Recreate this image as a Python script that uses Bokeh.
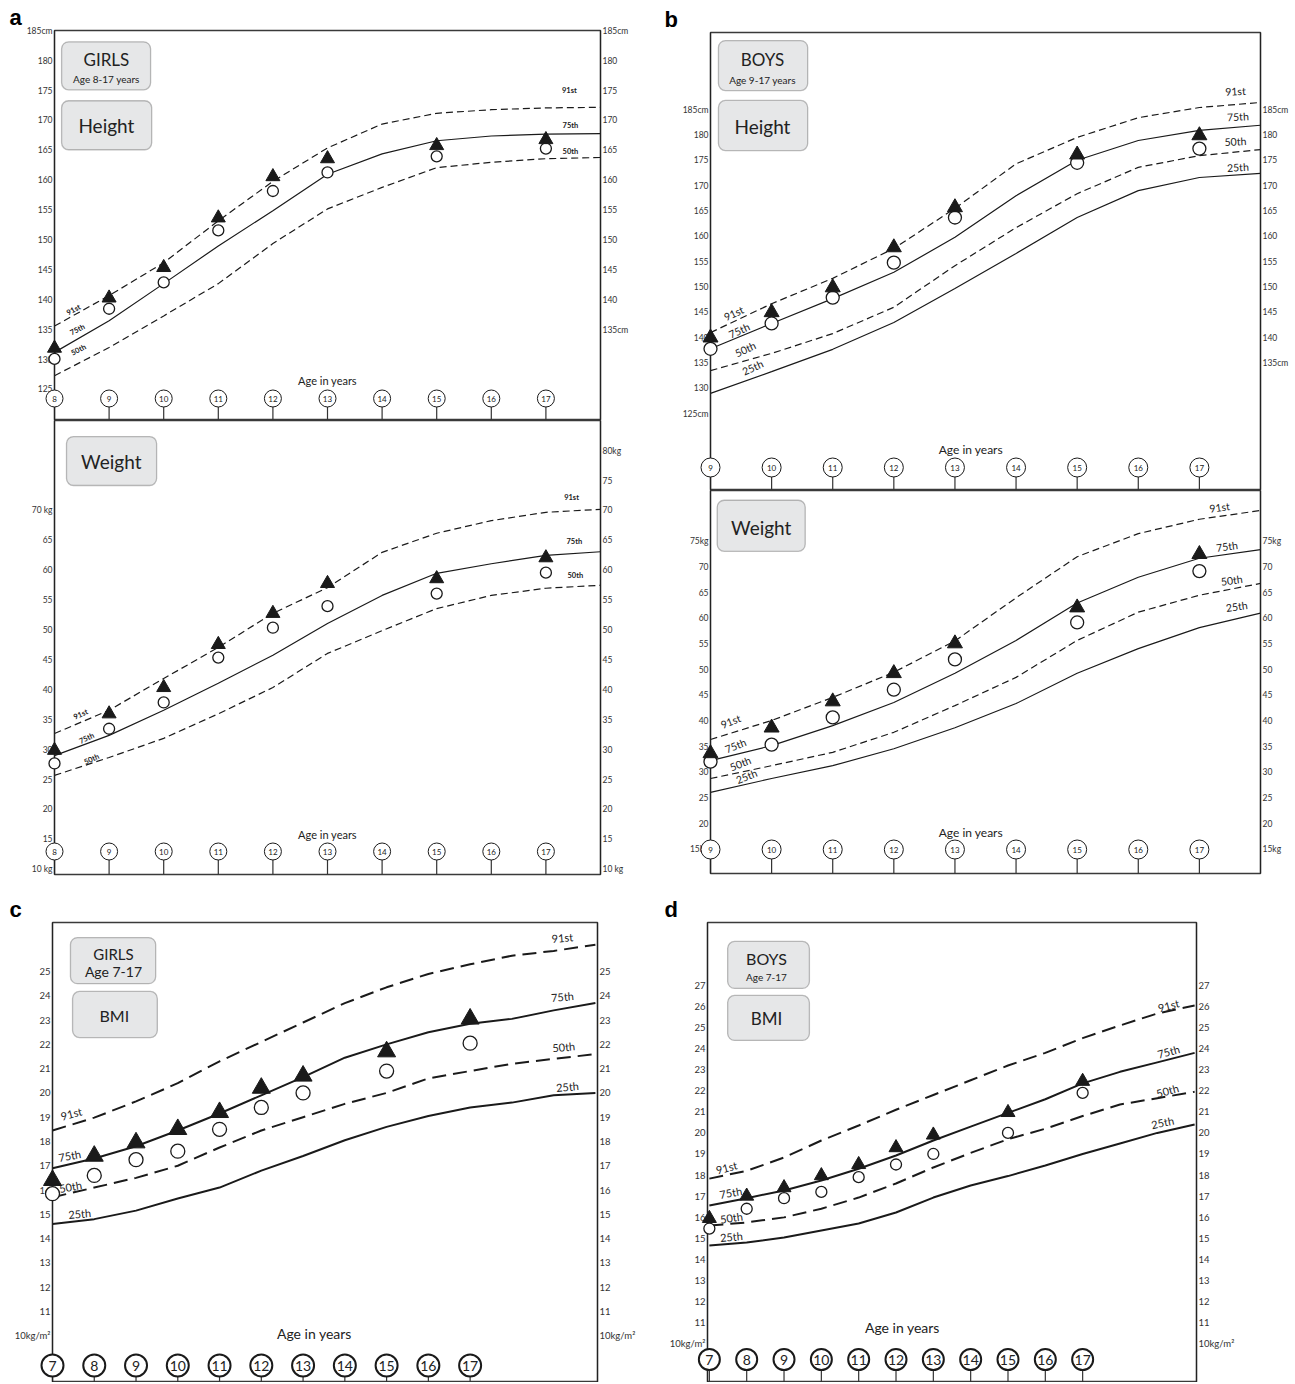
import numpy as np
from bokeh.plotting import figure
from bokeh.models import Range1d, LinearAxis, FixedTicker, BoxAnnotation, Label, Title
from bokeh.layouts import row, column
from bokeh.embed import file_html
from bokeh.resources import INLINE
from bokeh.core.properties import value

FONT = "Lato"
INK = "#1a1a1a"
AXC = "#333333"

# ---------------- data ----------------
# (a) girls height, cm
ga_ages = [8, 9, 10, 11, 12, 13, 14, 15, 16, 17, 18]
ga_h_p91 = [135.6, 140.7, 146.2, 153.2, 159.8, 165.4, 169.4, 171.2, 171.8, 172.1, 172.2]
ga_h_p75 = [131.2, 136.5, 142.7, 149.0, 154.9, 161.0, 164.4, 166.6, 167.4, 167.7, 167.8]
ga_h_p50 = [127.3, 132.0, 137.3, 142.7, 149.4, 155.2, 158.8, 162.1, 163.0, 163.6, 163.8]
ga_pt_ages = [8, 9, 10, 11, 12, 13, 15, 17]
ga_h_tri = [131.9, 140.3, 145.4, 153.7, 160.6, 163.6, 165.8, 166.8]
ga_h_circ = [130.1, 138.5, 142.9, 151.6, 158.2, 161.3, 164.0, 165.3]
# (a) girls weight, kg
ga_w_p91 = [32.7, 36.6, 41.9, 47.1, 52.8, 57.1, 63.0, 66.2, 68.3, 69.7, 70.2]
ga_w_p75 = [29.0, 32.4, 36.6, 41.1, 45.8, 51.1, 55.8, 59.5, 61.1, 62.5, 63.1]
ga_w_p50 = [25.7, 28.7, 31.9, 36.0, 40.4, 46.1, 49.9, 53.6, 55.8, 57.0, 57.5]
ga_w_tri = [29.9, 36.0, 40.4, 47.6, 52.8, 57.8, 58.6, 62.1]
ga_w_circ = [27.7, 33.5, 37.9, 45.4, 50.4, 54.0, 56.1, 59.6]
ga_age_marks = [8, 9, 10, 11, 12, 13, 14, 15, 16, 17]

# (b) boys height, cm
bb_ages = [9, 10, 11, 12, 13, 14, 15, 16, 17, 18]
bb_h_p91 = [141.0, 146.7, 151.7, 157.6, 165.5, 174.3, 179.5, 183.4, 185.4, 186.4]
bb_h_p75 = [137.8, 142.8, 147.7, 152.9, 159.8, 168.0, 175.0, 178.9, 180.9, 181.9]
bb_h_p50 = [133.5, 136.9, 140.8, 146.0, 154.2, 161.7, 168.4, 173.6, 175.9, 177.1]
bb_h_p25 = [129.0, 133.3, 137.7, 143.0, 149.7, 156.6, 163.7, 169.0, 171.6, 172.4]
bb_pt_ages = [9, 10, 11, 12, 13, 15, 17]
bb_h_tri = [140.0, 145.0, 149.9, 157.8, 165.7, 176.1, 179.9]
bb_h_circ = [137.8, 142.8, 147.9, 154.8, 163.7, 174.5, 177.3]
# (b) boys weight, kg
bb_w_p91 = [36.4, 40.1, 44.6, 49.5, 55.6, 64.0, 72.0, 76.5, 79.3, 81.0]
bb_w_p75 = [32.3, 35.2, 39.1, 43.6, 49.3, 55.7, 63.0, 68.0, 71.7, 73.4]
bb_w_p50 = [28.8, 31.3, 33.9, 37.8, 43.0, 48.5, 55.7, 61.2, 64.5, 66.8]
bb_w_p25 = [26.1, 28.8, 31.3, 34.6, 38.7, 43.4, 49.3, 54.1, 58.2, 61.0]
bb_w_tri = [33.7, 38.7, 43.8, 49.3, 55.1, 62.1, 72.5]
bb_w_circ = [32.1, 35.4, 40.7, 46.1, 52.0, 59.2, 69.2]
bb_age_marks = [9, 10, 11, 12, 13, 14, 15, 16, 17]

# (c) girls BMI
gc_ages = [7, 8, 9, 10, 11, 12, 13, 14, 15, 16, 17, 18, 19, 20]
gc_p91 = [18.45, 18.98, 19.65, 20.4, 21.3, 22.1, 22.9, 23.7, 24.35, 24.9, 25.3, 25.65, 25.85, 26.1]
gc_p75 = [16.9, 17.3, 17.8, 18.45, 19.15, 19.9, 20.65, 21.45, 22.0, 22.5, 22.85, 23.05, 23.4, 23.7]
gc_p50 = [15.7, 16.1, 16.5, 17.0, 17.75, 18.45, 19.0, 19.55, 20.0, 20.6, 20.9, 21.2, 21.4, 21.6]
gc_p25 = [14.6, 14.8, 15.15, 15.65, 16.1, 16.8, 17.4, 18.05, 18.6, 19.05, 19.4, 19.6, 19.9, 20.0]
gc_pt_ages = [7, 8, 9, 10, 11, 12, 13, 15, 17]
gc_tri = [16.4, 17.4, 17.95, 18.5, 19.2, 20.2, 20.7, 21.7, 23.05]
gc_circ = [15.85, 16.6, 17.25, 17.6, 18.5, 19.4, 20.0, 20.9, 22.05]
gc_age_marks = [7, 8, 9, 10, 11, 12, 13, 14, 15, 16, 17]

# (d) boys BMI
bd_ages = [7, 8, 9, 10, 11, 12, 13, 14, 15, 16, 17, 18, 19, 20]
bd_p91 = [17.83, 18.2, 18.83, 19.64, 20.35, 21.1, 21.8, 22.5, 23.2, 23.8, 24.5, 25.1, 25.67, 26.05]
bd_p75 = [16.55, 16.9, 17.27, 17.74, 18.3, 18.93, 19.64, 20.3, 20.95, 21.6, 22.35, 22.9, 23.35, 23.8]
bd_p50 = [15.6, 15.75, 15.99, 16.4, 16.93, 17.6, 18.36, 19.05, 19.7, 20.2, 20.8, 21.35, 21.65, 21.95]
bd_p25 = [14.65, 14.8, 15.03, 15.37, 15.7, 16.22, 16.93, 17.5, 17.95, 18.45, 19.0, 19.5, 20.0, 20.4]
bd_pt_ages = [7, 8, 9, 10, 11, 12, 13, 15, 17]
bd_tri = [15.94, 17.0, 17.4, 17.97, 18.5, 19.3, 19.9, 20.97, 22.45]
bd_circ = [15.46, 16.4, 16.9, 17.2, 17.9, 18.5, 19.0, 20.0, 21.9]
bd_age_marks = [7, 8, 9, 10, 11, 12, 13, 14, 15, 16, 17]

# tick labels
ga_h_left_ticks = [125, 130, 135, 140, 145, 150, 155, 160, 165, 170, 175, 180, 185]
ga_h_left_lab = {185: "185cm"}
ga_h_right_ticks = [135, 140, 145, 150, 155, 160, 165, 170, 175, 180, 185]
ga_h_right_lab = {185: "185cm", 135: "135cm"}
ga_w_left_ticks = [10, 15, 20, 25, 30, 35, 40, 45, 50, 55, 60, 65, 70]
ga_w_left_lab = {70: "70 kg", 10: "10 kg"}
ga_w_right_ticks = [10, 15, 20, 25, 30, 35, 40, 45, 50, 55, 60, 65, 70, 75, 80]
ga_w_right_lab = {80: "80kg", 10: "10 kg"}
bb_h_left_ticks = [125, 130, 135, 140, 145, 150, 155, 160, 165, 170, 175, 180, 185]
bb_h_left_lab = {185: "185cm", 125: "125cm"}
bb_h_right_ticks = [135, 140, 145, 150, 155, 160, 165, 170, 175, 180, 185]
bb_h_right_lab = {185: "185cm", 135: "135cm"}
bb_w_ticks = [15, 20, 25, 30, 35, 40, 45, 50, 55, 60, 65, 70, 75]
bb_w_lab = {75: "75kg", 15: "15kg"}
gc_ticks = list(range(10, 26))
bmi_lab = {10: "10kg/m\u00b2"}
bd_ticks = list(range(10, 28))


# ---------------- helpers ----------------
def make_fig(xr, yr, fw, fh, bl, br, bt, bb):
    p = figure(x_range=Range1d(*xr), y_range=Range1d(*yr), frame_width=fw, frame_height=fh,
               min_border_left=bl, min_border_right=br, min_border_top=bt, min_border_bottom=bb,
               toolbar_location=None, output_backend="svg",
               x_axis_location=None, y_axis_location=None)
    p.grid.visible = False
    p.outline_line_color = "#3a3a3a"
    p.outline_line_width = 1.3
    p.background_fill_color = "white"
    p.border_fill_color = "white"
    return p


def panel_letter(p, letter, offset):
    p.add_layout(Title(text=letter, align="left", offset=offset, standoff=2,
                       text_font="Liberation Sans", text_font_size="22px",
                       text_font_style="bold", text_color="black"), "above")


def yaxis(p, side, ticks, labels, fs):
    ax = LinearAxis(ticker=FixedTicker(ticks=ticks), major_label_overrides=dict(labels),
                    major_tick_in=0, major_tick_out=0, minor_tick_in=0, minor_tick_out=0,
                    major_label_standoff=2, axis_line_color="#222222", axis_line_width=1.3,
                    major_label_text_font=FONT, major_label_text_font_size=fs,
                    major_label_text_color=AXC)
    p.add_layout(ax, side)


def curves(p, ages, series, lw, dash):
    for vals, dashed in series:
        p.line(ages, vals, line_color=INK, line_width=lw,
               line_dash=dash if dashed else "solid")


def points(p, ages, tri, circ, ts, cs):
    p.scatter(ages, circ, marker="circle", size=cs, fill_color="white", line_color=INK,
              line_width=1.3, level="overlay")
    p.scatter(ages, tri, marker="triangle", size=ts, fill_color=INK, line_color=INK, level="overlay")


def age_row(p, ages, off_px, fh, size, lw, fs):
    y0, y1 = p.y_range.start, p.y_range.end
    yc = y0 + off_px * (y1 - y0) / fh
    n = len(ages)
    p.segment(x0=ages, y0=[y0] * n, x1=ages, y1=[yc] * n, line_color="#333333", line_width=1.2)
    p.scatter(ages, [yc] * n, marker="circle", size=size, fill_color="white",
              line_color=INK, line_width=lw, level="overlay")
    p.text(ages, [yc] * n, text=[str(a) for a in ages], text_align="center",
           text_baseline="middle", text_font=value(FONT), text_font_size=fs, text_color="#222222",
           level="overlay")


def label(p, x, y, text, fs, angle=0, bold=False, align="center", color="#222222", font=FONT):
    p.add_layout(Label(x=x, y=y, text=text, text_font=font, text_font_size=fs,
                       text_font_style="bold" if bold else "normal", text_align=align,
                       text_baseline="middle", angle=angle, angle_units="deg", text_color=color))


def box(p, l, r, b, t):
    p.add_layout(BoxAnnotation(left=l, right=r, bottom=b, top=t, fill_color="#e6e7e8", fill_alpha=1,
                               line_color="#2a2a2a", line_width=1.3, border_radius=7))


# ---------------- panel a: height ----------------
a1 = make_fig((8, 18), (119.8, 185.05), 546, 390, 54, 40, 30, 0)
panel_letter(a1, "a", -45)
yaxis(a1, "left", ga_h_left_ticks, ga_h_left_lab, "8.5px")
yaxis(a1, "right", ga_h_right_ticks, ga_h_right_lab, "8.5px")
curves(a1, ga_ages, [(ga_h_p91, True), (ga_h_p75, False), (ga_h_p50, True)], 1.2, "7 4")
age_row(a1, ga_age_marks, 22, 390, 17, 1.0, "8px")
points(a1, ga_pt_ages, ga_h_tri, ga_h_circ, 14, 11)
label(a1, 13.0, 126.5, "Age in years", "11px")
box(a1, 8.13, 9.76, 175.13, 183.16)
box(a1, 8.13, 9.78, 165.1, 173.3)
label(a1, 8.95, 180.15, "GIRLS", "17px")
label(a1, 8.95, 176.97, "Age 8-17 years", "10px")
label(a1, 8.95, 169.1, "Height", "19px")
for t, x, y in [("91st", 8.35, 138.3), ("75th", 8.42, 135.0), ("50th", 8.44, 131.6)]:
    label(a1, x, y, t, "7.5px", angle=28, bold=True)
for t, x, y in [("91st", 17.43, 175.0), ("75th", 17.45, 169.1), ("50th", 17.45, 164.8)]:
    label(a1, x, y, t, "7.5px", bold=True)

# ---------------- panel a: weight ----------------
a2 = make_fig((8, 18), (9.13, 85.05), 546, 454, 54, 40, 0, 6)
yaxis(a2, "left", ga_w_left_ticks, ga_w_left_lab, "8.5px")
yaxis(a2, "right", ga_w_right_ticks, ga_w_right_lab, "8.5px")
curves(a2, ga_ages, [(ga_w_p91, True), (ga_w_p75, False), (ga_w_p50, True)], 1.2, "7 4")
age_row(a2, ga_age_marks, 23, 454, 17, 1.0, "8px")
points(a2, ga_pt_ages, ga_w_tri, ga_w_circ, 14, 11)
label(a2, 13.0, 15.8, "Age in years", "11px")
box(a2, 8.22, 9.87, 74.18, 82.37)
label(a2, 9.04, 78.2, "Weight", "19px")
for t, x, y in [("91st", 8.48, 35.9), ("75th", 8.59, 31.9), ("50th", 8.68, 28.4)]:
    label(a2, x, y, t, "7.5px", angle=25, bold=True)
for t, x, y in [("91st", 17.47, 72.2), ("75th", 17.52, 64.8), ("50th", 17.54, 59.1)]:
    label(a2, x, y, t, "7.5px", bold=True)

# ---------------- panel b: height ----------------
b1 = make_fig((9, 18), (109.85, 200.2), 550, 458, 70, 27, 32, 0)
panel_letter(b1, "b", -46)
yaxis(b1, "left", bb_h_left_ticks, bb_h_left_lab, "8.5px")
yaxis(b1, "right", bb_h_right_ticks, bb_h_right_lab, "8.5px")
curves(b1, bb_ages, [(bb_h_p91, True), (bb_h_p75, False), (bb_h_p50, True), (bb_h_p25, False)], 1.2, "7 4")
age_row(b1, bb_age_marks, 23, 458, 19, 1.0, "8px")
points(b1, bb_pt_ages, bb_h_tri, bb_h_circ, 15, 13)
label(b1, 13.26, 117.9, "Age in years", "12px")
box(b1, 9.13, 10.59, 188.75, 198.6)
box(b1, 9.13, 10.59, 176.9, 186.8)
label(b1, 9.85, 194.86, "BOYS", "17px")
label(b1, 9.85, 190.9, "Age 9-17 years", "10px")
label(b1, 9.85, 181.65, "Height", "19px")
for t, x, y in [("91st", 9.38, 144.8), ("75th", 9.47, 141.4), ("50th", 9.57, 137.7), ("25th", 9.69, 134.1)]:
    label(b1, x, y, t, "10.5px", angle=25)
for t, x, y in [("91st", 17.59, 188.6), ("75th", 17.63, 183.6), ("50th", 17.59, 178.7), ("25th", 17.63, 173.6)]:
    label(b1, x, y, t, "10.5px", angle=3)

# ---------------- panel b: weight ----------------
b2 = make_fig((9, 18), (10.3, 84.9), 550, 383, 70, 27, 0, 7)
yaxis(b2, "left", bb_w_ticks, bb_w_lab, "8.5px")
yaxis(b2, "right", bb_w_ticks, bb_w_lab, "8.5px")
curves(b2, bb_ages, [(bb_w_p91, True), (bb_w_p75, False), (bb_w_p50, True), (bb_w_p25, False)], 1.2, "7 4")
age_row(b2, bb_age_marks, 24, 383, 19, 1.0, "8px")
points(b2, bb_pt_ages, bb_w_tri, bb_w_circ, 15, 13)
label(b2, 13.26, 18.3, "Age in years", "12px")
box(b2, 9.11, 10.55, 73.05, 83.0)
label(b2, 9.83, 77.73, "Weight", "19px")
for t, x, y in [("91st", 9.33, 39.9), ("75th", 9.41, 35.2), ("50th", 9.49, 31.7), ("25th", 9.59, 29.2)]:
    label(b2, x, y, t, "10.5px", angle=22)
for t, x, y in [("91st", 17.33, 81.6), ("75th", 17.45, 74.0), ("50th", 17.53, 67.4), ("25th", 17.61, 62.3)]:
    label(b2, x, y, t, "10.5px", angle=8)

# ---------------- panel c: girls BMI ----------------
c = make_fig((7, 20.05), (8.07, 27.02), 545, 460, 52, 50, 42, 0)
panel_letter(c, "c", -43)
yaxis(c, "left", gc_ticks, bmi_lab, "9.5px")
yaxis(c, "right", gc_ticks, bmi_lab, "9.5px")
curves(c, gc_ages, [(gc_p91, True), (gc_p75, False), (gc_p50, True), (gc_p25, False)], 2.0, "14 7")
age_row(c, gc_age_marks, 17, 460, 22, 2.0, "14px")
points(c, gc_pt_ages, gc_tri, gc_circ, 18, 14)
label(c, 13.27, 10.08, "Age in years", "14px")
box(c, 7.43, 9.47, 24.5, 26.4)
box(c, 7.48, 9.51, 22.28, 24.18)
label(c, 8.46, 25.74, "GIRLS", "15px")
label(c, 8.46, 25.0, "Age 7-17", "14px")
label(c, 8.48, 23.19, "BMI", "16px")
for t, x, y, a in [("91st", 7.45, 19.15, 15), ("75th", 7.41, 17.42, 10), ("50th", 7.43, 16.14, 10), ("25th", 7.65, 15.03, 5)]:
    label(c, x, y, t, "11px", angle=a)
for t, x, y in [("91st", 19.21, 26.4), ("75th", 19.21, 23.97), ("50th", 19.24, 21.9), ("25th", 19.33, 20.26)]:
    label(c, x, y, t, "11px", angle=5)

# ---------------- panel d: boys BMI ----------------
d = make_fig((6.95, 20.05), (8.15, 29.99), 489, 460, 60, 91, 42, 0)
panel_letter(d, "d", -43)
yaxis(d, "left", bd_ticks, bmi_lab, "9.5px")
yaxis(d, "right", bd_ticks, bmi_lab, "9.5px")
curves(d, bd_ages, [(bd_p91, True), (bd_p75, False), (bd_p50, True), (bd_p25, False)], 2.0, "14 7")
age_row(d, bd_age_marks, 23, 460, 21, 2.0, "14px")
points(d, bd_pt_ages, bd_tri, bd_circ, 14, 11)
label(d, 12.17, 10.76, "Age in years", "14px")
box(d, 7.49, 9.68, 26.86, 29.09)
box(d, 7.49, 9.68, 24.39, 26.53)
label(d, 8.53, 28.28, "BOYS", "16px")
label(d, 8.53, 27.38, "Age 7-17", "10px")
label(d, 8.53, 25.43, "BMI", "17px")
for t, x, y, a in [("91st", 7.46, 18.36, 15), ("75th", 7.57, 17.17, 10), ("50th", 7.59, 15.98, 8), ("25th", 7.59, 15.08, 5)]:
    label(d, x, y, t, "11px", angle=a)
for t, x, y, a in [("91st", 19.30, 26.05, 15), ("75th", 19.30, 23.87, 15), ("50th", 19.27, 22.01, 15), ("25th", 19.14, 20.5, 12)]:
    label(d, x, y, t, "11px", angle=a)

layout = column(row(column(a1, a2), column(b1, b2)), row(c, d))
open("out.html", "w").write(file_html(layout, INLINE))
